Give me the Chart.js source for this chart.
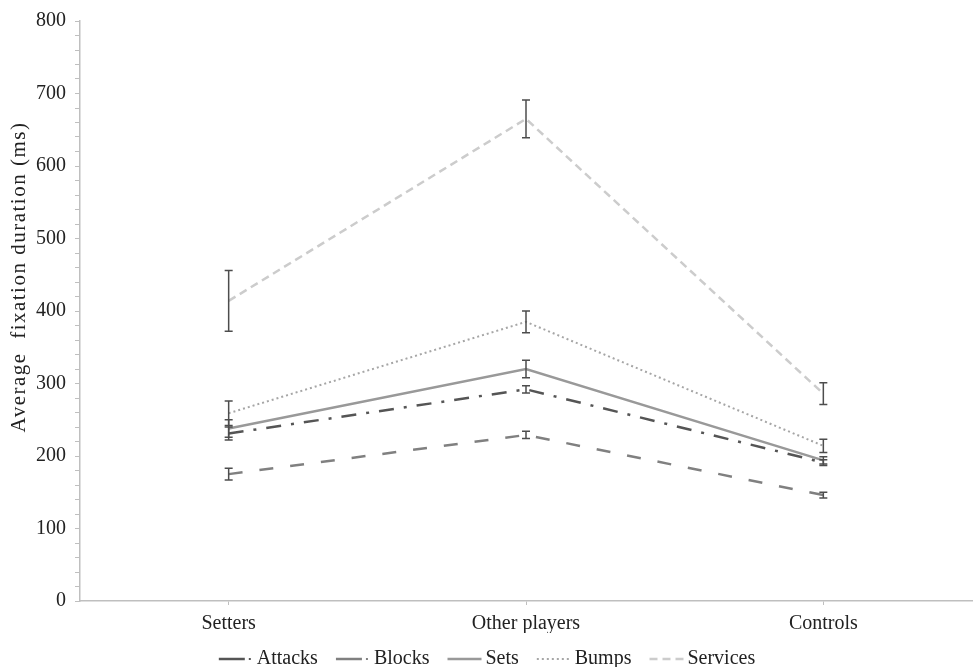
<!DOCTYPE html>
<html>
<head>
<meta charset="utf-8">
<script src="https://cdn.jsdelivr.net/npm/chart.js@4/dist/chart.umd.min.js"></script>
<style>
  html, body { margin: 0; padding: 0; background: #fff; }
  #wrap { width: 974px; height: 667px; }
</style>
</head>
<body>
<div id="wrap"><canvas id="chart" width="974" height="667"></canvas></div>
<script>
// --- datos ---
const groups = ['Setters', 'Other players', 'Controls'];

const attacks  = [231, 292, 191];
const blocks   = [175, 229, 146];
const sets     = [238, 320, 194];
const bumps    = [259, 385, 214];
const services = [414, 665, 286];

// errores (± ms)
const attacksErr  = [9, 5, 4];
const blocksErr   = [8, 5, 4];
const setsErr     = [12, 12, 5];
const bumpsErr    = [17, 15, 9];
const servicesErr = [42, 26, 15];

const yTicks = [0, 100, 200, 300, 400, 500, 600, 700, 800];

const serif = "'Liberation Serif', 'Times New Roman', serif";

// muestra de línea para la leyenda (con el punto suelto de Excel)
function legendSample(color, dash, width, dot) {
    const c = document.createElement('canvas');
    c.width = 46; c.height = 6;
    const g = c.getContext('2d');
    g.strokeStyle = color;
    g.lineWidth = width;
    g.setLineDash(dash);
    g.beginPath(); g.moveTo(10, 3); g.lineTo(dot ? 36 : 44, 3); g.stroke();
    if (dot) {
        g.fillStyle = color;
        g.fillRect(40, 2, 2, 2);
    }
    return c;
}

// barras de error dibujadas con las escalas del gráfico
const errorBars = {
    id: 'errorBars',
    afterDatasetsDraw(chart) {
        const ctx = chart.ctx;
        const y = chart.scales.y;
        ctx.save();
        ctx.strokeStyle = '#4d4d4d';
        ctx.lineWidth = 1.5;
        ctx.setLineDash([]);
        chart.data.datasets.forEach((ds, i) => {
            const meta = chart.getDatasetMeta(i);
            meta.data.forEach((pt, j) => {
                const top = y.getPixelForValue(ds.data[j] + ds.err[j]);
                const bot = y.getPixelForValue(ds.data[j] - ds.err[j]);
                ctx.beginPath();
                ctx.moveTo(pt.x, top); ctx.lineTo(pt.x, bot);
                ctx.moveTo(pt.x - 4, top); ctx.lineTo(pt.x + 4, top);
                ctx.moveTo(pt.x - 4, bot); ctx.lineTo(pt.x + 4, bot);
                ctx.stroke();
            });
        });
        ctx.restore();
    }
};

// título del eje Y algo más espaciado y subido, como en el original
const spacedTitle = {
    id: 'spacedTitle',
    beforeDraw(chart) {
        const ys = chart.scales.y;
        if (ys._spaced) return;
        const orig = ys.drawTitle.bind(ys);
        ys.drawTitle = function () {
            const c = this.ctx;
            c.save();
            c.letterSpacing = '1.5px';
            c.translate(0, -34);
            orig();
            c.restore();
        };
        ys._spaced = true;
    }
};

function serie(label, data, err, color, dash, width, dot) {
    return {
        label: label, data: data, err: err,
        borderColor: color, backgroundColor: color,
        borderWidth: width, borderDash: dash,
        pointRadius: 0, tension: 0, fill: false,
        pointStyle: legendSample(color, dot ? [] : dash, width, dot)
    };
}

new Chart(document.getElementById('chart').getContext('2d'), {
    type: 'line',
    data: {
        labels: groups,
        datasets: [
            serie('Attacks',  attacks,  attacksErr,  '#555555', [15, 10, 3, 10], 2.5, true),
            serie('Blocks',   blocks,   blocksErr,   '#808080', [14, 17], 2.5, true),
            serie('Sets',     sets,     setsErr,     '#999999', [], 2.5, false),
            serie('Bumps',    bumps,    bumpsErr,    '#a6a6a6', [2, 3], 2, false),
            serie('Services', services, servicesErr, '#cccccc', [8, 5], 2.5, false)
        ]
    },
    options: {
        responsive: false,
        animation: false,
        layout: { padding: { top: 18, right: 2, left: 0, bottom: -12 } },
        plugins: {
            legend: {
                position: 'bottom',
                labels: {
                    usePointStyle: true,
                    pointStyleWidth: 30,
                    boxHeight: 6,
                    padding: 16,
                    color: '#222',
                    font: { family: serif, size: 20 }
                }
            },
            tooltip: { enabled: false }
        },
        scales: {
            x: {
                offset: true,
                grid: { display: true, drawOnChartArea: false, drawTicks: true, tickLength: 4, color: '#bfbfbf' },
                border: { color: '#bfbfbf', width: 1.5 },
                ticks: { color: '#222', font: { family: serif, size: 20 }, padding: 7 },
                afterFit: s => { s.height = 32; }
            },
            y: {
                min: 0, max: 800,
                afterBuildTicks: s => {
                    // marcas menores cada 20
                    const t = [];
                    for (let v = 0; v <= 800; v += 20) t.push({ value: v });
                    s.ticks = t;
                },
                grid: { display: true, drawOnChartArea: false, drawTicks: true, tickLength: 5, color: '#bfbfbf' },
                border: { color: '#bfbfbf', width: 1.5 },
                ticks: {
                    autoSkip: false,
                    color: '#222',
                    font: { family: serif, size: 20 },
                    padding: 9,
                    callback: v => yTicks.includes(v) ? v : ''
                },
                title: {
                    display: true,
                    text: 'Average  fixation duration (ms)',
                    color: '#222',
                    font: { family: serif, size: 21 },
                    padding: { top: 7, bottom: 0 }
                },
                afterFit: s => { s.width = 80; }
            }
        }
    },
    plugins: [errorBars, spacedTitle]
});
</script>
</body>
</html>
